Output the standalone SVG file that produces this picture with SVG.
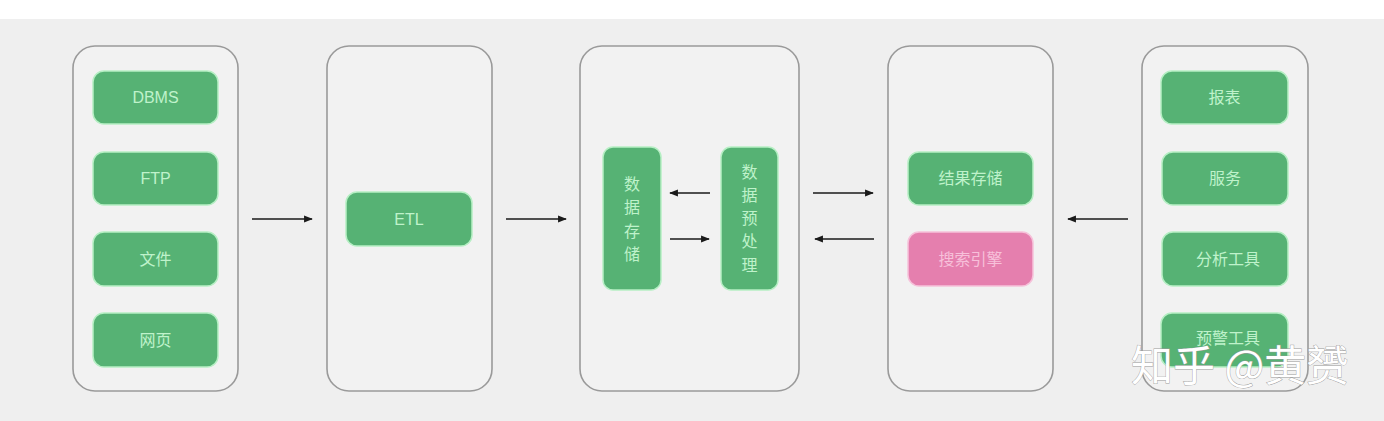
<svg xmlns="http://www.w3.org/2000/svg" width="1384" height="421" viewBox="0 0 1384 421">
<style>
.bg{fill:#efefef}
.cont{fill:#f2f2f2;stroke:#9a9a9a;stroke-width:1.6}
.g{fill:#56b274;stroke:#b6efc4;stroke-width:1.5}
.p{fill:#e57fae;stroke:#f6c2da;stroke-width:1.5}
.t{font-family:"Liberation Sans","Noto Sans CJK SC",sans-serif;font-size:16px;fill:#bff2cb;text-anchor:middle;dominant-baseline:central}
.tp{fill:#f7c0da}
.con{stroke:#1a1a1a;stroke-width:1.6;fill:none;marker-end:url(#ah)}
.wm{font-family:"Noto Sans CJK SC",sans-serif;font-size:42px;fill:#ffffff;stroke:#9a9a9a;stroke-width:0.8;paint-order:stroke}
</style>
<defs>
<marker id="ah" viewBox="0 0 10 10" refX="9" refY="5" markerWidth="5.5" markerHeight="5.5" orient="auto" markerUnits="strokeWidth">
<path d="M0,1 L10,5 L0,9 z" fill="#1a1a1a"/>
</marker>
</defs>
<rect x="0" y="0" width="1384" height="421" fill="#ffffff"/>
<rect class="bg" x="0" y="19" width="1384" height="402"/>

<g id="sources">
<rect class="cont" x="73" y="46" width="165" height="345" rx="22"/>
<g id="dbms"><rect class="g" x="93" y="71" width="125" height="53" rx="11"/><text class="t" x="155.5" y="97.5">DBMS</text></g>
<g id="ftp"><rect class="g" x="93" y="152" width="125" height="53" rx="11"/><text class="t" x="155.5" y="178.5">FTP</text></g>
<g id="file"><rect class="g" x="93" y="232" width="125" height="54" rx="11"/><text class="t" x="155.5" y="259">文件</text></g>
<g id="web"><rect class="g" x="93" y="313" width="125" height="54" rx="11"/><text class="t" x="155.5" y="340">网页</text></g>
</g>

<g id="etl-col">
<rect class="cont" x="327" y="46" width="165" height="345" rx="22"/>
<g id="etl"><rect class="g" x="346" y="192" width="126" height="54" rx="11"/><text class="t" x="409" y="219">ETL</text></g>
</g>

<g id="storage-col">
<rect class="cont" x="580" y="46" width="219" height="345" rx="22"/>
<g id="store"><rect class="g" x="603" y="147" width="58" height="143" rx="10"/>
<text class="t" x="632" y="184">数</text><text class="t" x="632" y="207">据</text><text class="t" x="632" y="231">存</text><text class="t" x="632" y="254">储</text></g>
<g id="preproc"><rect class="g" x="721" y="147" width="57" height="143" rx="10"/>
<text class="t" x="749.5" y="172">数</text><text class="t" x="749.5" y="195">据</text><text class="t" x="749.5" y="218">预</text><text class="t" x="749.5" y="241">处</text><text class="t" x="749.5" y="265">理</text></g>
</g>

<g id="result-col">
<rect class="cont" x="888" y="46" width="165" height="345" rx="22"/>
<g id="result"><rect class="g" x="908" y="152" width="125" height="53" rx="11"/><text class="t" x="970.5" y="178.5">结果存储</text></g>
<g id="search"><rect class="p" x="908" y="232" width="125" height="54" rx="11"/><text class="t tp" x="970.5" y="259">搜索引擎</text></g>
</g>

<g id="apps">
<rect class="cont" x="1142" y="46" width="166" height="345" rx="22"/>
<g id="report"><rect class="g" x="1161" y="71" width="127" height="53" rx="11"/><text class="t" x="1224.5" y="97.5">报表</text></g>
<g id="service"><rect class="g" x="1162" y="152" width="126" height="53" rx="11"/><text class="t" x="1225" y="178.5">服务</text></g>
<g id="analysis"><rect class="g" x="1162" y="232" width="126" height="54" rx="11"/><text class="t" x="1228" y="259">分析工具</text></g>
<g id="alert"><rect class="g" x="1161" y="313" width="127" height="54" rx="11"/><text class="t" x="1228" y="338">预警工具</text></g>
</g>

<g id="connectors">
<line class="con" x1="252" y1="219" x2="312" y2="219"/>
<line class="con" x1="506" y1="219" x2="566" y2="219"/>
<line class="con" x1="710" y1="193" x2="670" y2="193"/>
<line class="con" x1="670" y1="239" x2="709" y2="239"/>
<line class="con" x1="813" y1="193" x2="873" y2="193"/>
<line class="con" x1="874" y1="239" x2="815" y2="239"/>
<line class="con" x1="1128" y1="219" x2="1068" y2="219"/>
</g>

<text class="wm" x="1131" y="381">知乎 @黄赟</text>
</svg>
